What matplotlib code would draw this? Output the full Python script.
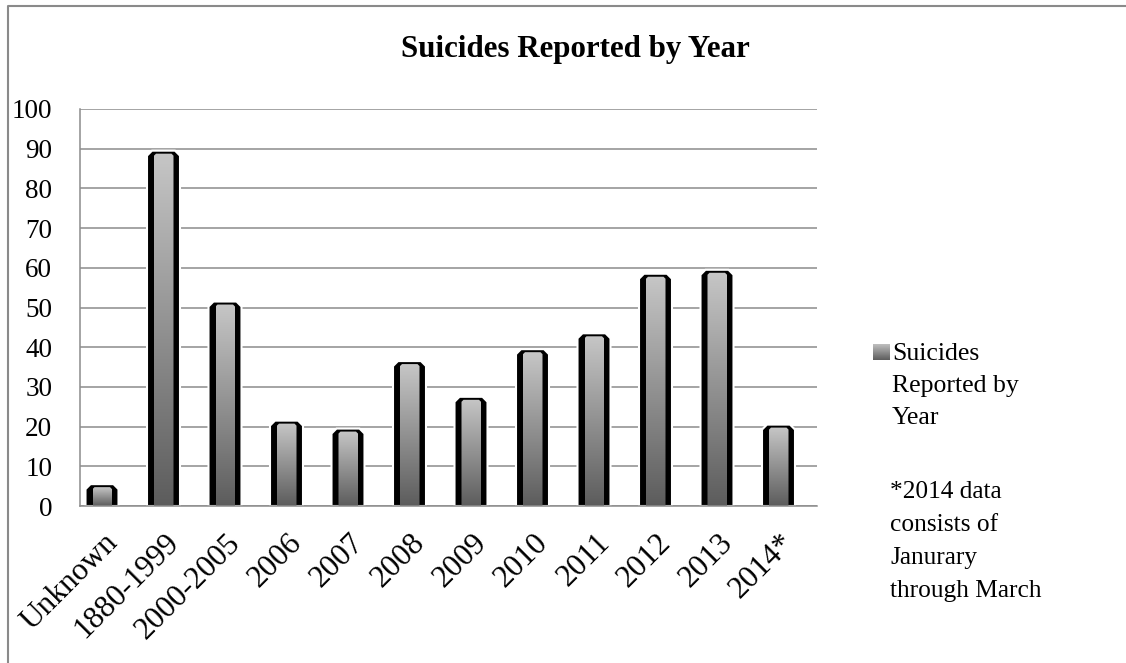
import matplotlib
matplotlib.use("Agg")
import matplotlib.pyplot as plt
import numpy as np
from matplotlib.patches import Polygon
from matplotlib.lines import Line2D
from matplotlib.colors import LinearSegmentedColormap
from matplotlib.transforms import ScaledTranslation

# data
categories = ["Unknown", "1880-1999", "2000-2005", "2006", "2007", "2008",
              "2009", "2010", "2011", "2012", "2013", "2014*"]
suicides = [5, 89, 51, 21, 19, 36, 27, 39, 43, 58, 59, 20]
y_ticks = [0, 10, 20, 30, 40, 50, 60, 70, 80, 90, 100]
title = "Suicides Reported by Year"
legend_lines = ["Suicides", "Reported by", "Year"]
note_lines = ["*2014 data", "consists of", "Janurary", "through March"]

plt.rcParams['font.family'] = ['Liberation Serif', 'DejaVu Serif']

W, H = 1126, 663
fig = plt.figure(figsize=(W / 100, H / 100), dpi=100)

# plot area in pixels: x 80..817, y 109..506
ax = fig.add_axes([80 / W, (H - 506) / H, 737 / W, 397 / H])
step = 61.5            # pixels per category
px_x = 1 / step
px_y = 100 / 397

cmap = LinearSegmentedColormap.from_list('bar', ['#5c5c5c', '#c6c6c6'])
gradient = np.linspace(0, 1, 256).reshape(-1, 1)

for i, v in enumerate(suicides):
    # black outline straddles the bar edge, so it pokes out a little
    hw = 16.5 * px_x
    vt = v + 2 * px_y
    cx, cy = 5 * px_x, 5 * px_y
    outer = [(i - hw, 0), (i - hw, vt - cy), (i - hw + cx, vt),
             (i + hw - cx, vt), (i + hw, vt - cy), (i + hw, 0)]
    ax.add_patch(Polygon(outer, closed=True, fc='black', ec='white',
                         lw=1.5, zorder=3))
    left, right, top = i - hw + 7 * px_x, i + hw - 6.5 * px_x, vt - 3 * px_y
    inner = [(left, 0), (left, top - 2 * px_y), (left + 2 * px_x, top),
             (right - 2 * px_x, top), (right, top - 2 * px_y), (right, 0)]
    clip = Polygon(inner, closed=True, fc='none', ec='none')
    ax.add_patch(clip)
    im = ax.imshow(gradient, cmap=cmap, extent=(left, right, 0, top),
                   origin='lower', aspect='auto', zorder=4,
                   interpolation='bilinear')
    im.set_clip_path(clip)

ax.set_xlim(-22 / step, 715 / step)
ax.set_ylim(0, 100)

ax.set_yticks(y_ticks)
ax.set_yticklabels([str(t) for t in y_ticks], fontsize=19.5)
ax.set_xticks(range(len(categories)))
ax.set_xticklabels(categories, fontsize=22.5, rotation=45, ha='right',
                   va='top', rotation_mode='anchor')
ax.tick_params(axis='both', length=0)
ax.tick_params(axis='y', pad=20)
ax.tick_params(axis='x', pad=16)
for lab in ax.get_xticklabels():
    lab.set_transform(lab.get_transform() +
                      ScaledTranslation(0.01, 0, fig.dpi_scale_trans))

ax.grid(axis='y', color='#8c8c8c', lw=1.1)
ax.set_axisbelow(True)
for side in ['top', 'right']:
    ax.spines[side].set_visible(False)
for side in ['left', 'bottom']:
    ax.spines[side].set_color('#8c8c8c')
    ax.spines[side].set_linewidth(1.1)
    ax.spines[side].set_zorder(5)

fig.text(575 / W, 1 - 57 / H, title, ha='center', va='baseline',
         fontsize=22.3, fontweight='bold')

# legend marker with gradient
lax = fig.add_axes([873 / W, 1 - 360 / H, 16 / W, 16 / H])
lax.imshow(gradient, cmap=cmap, origin='lower', aspect='auto',
           extent=(0, 1, 0, 1))
lax.axis('off')

for k, line in enumerate(legend_lines):
    fig.text(892 / W, 1 - (360 + 32 * k) / H, line, ha='left',
             va='baseline', fontsize=18.5)
for k, line in enumerate(note_lines):
    fig.text(890 / W, 1 - (498 + 33 * k) / H, line, ha='left',
             va='baseline', fontsize=18.3)

# outer chart frame (left and top edges)
fig.add_artist(Line2D([8 / W, 8 / W, 1], [0, 1 - 6 / H, 1 - 6 / H],
                      transform=fig.transFigure, color='#8a8a8a', lw=1.5))

fig.savefig("out.png", dpi=100)
